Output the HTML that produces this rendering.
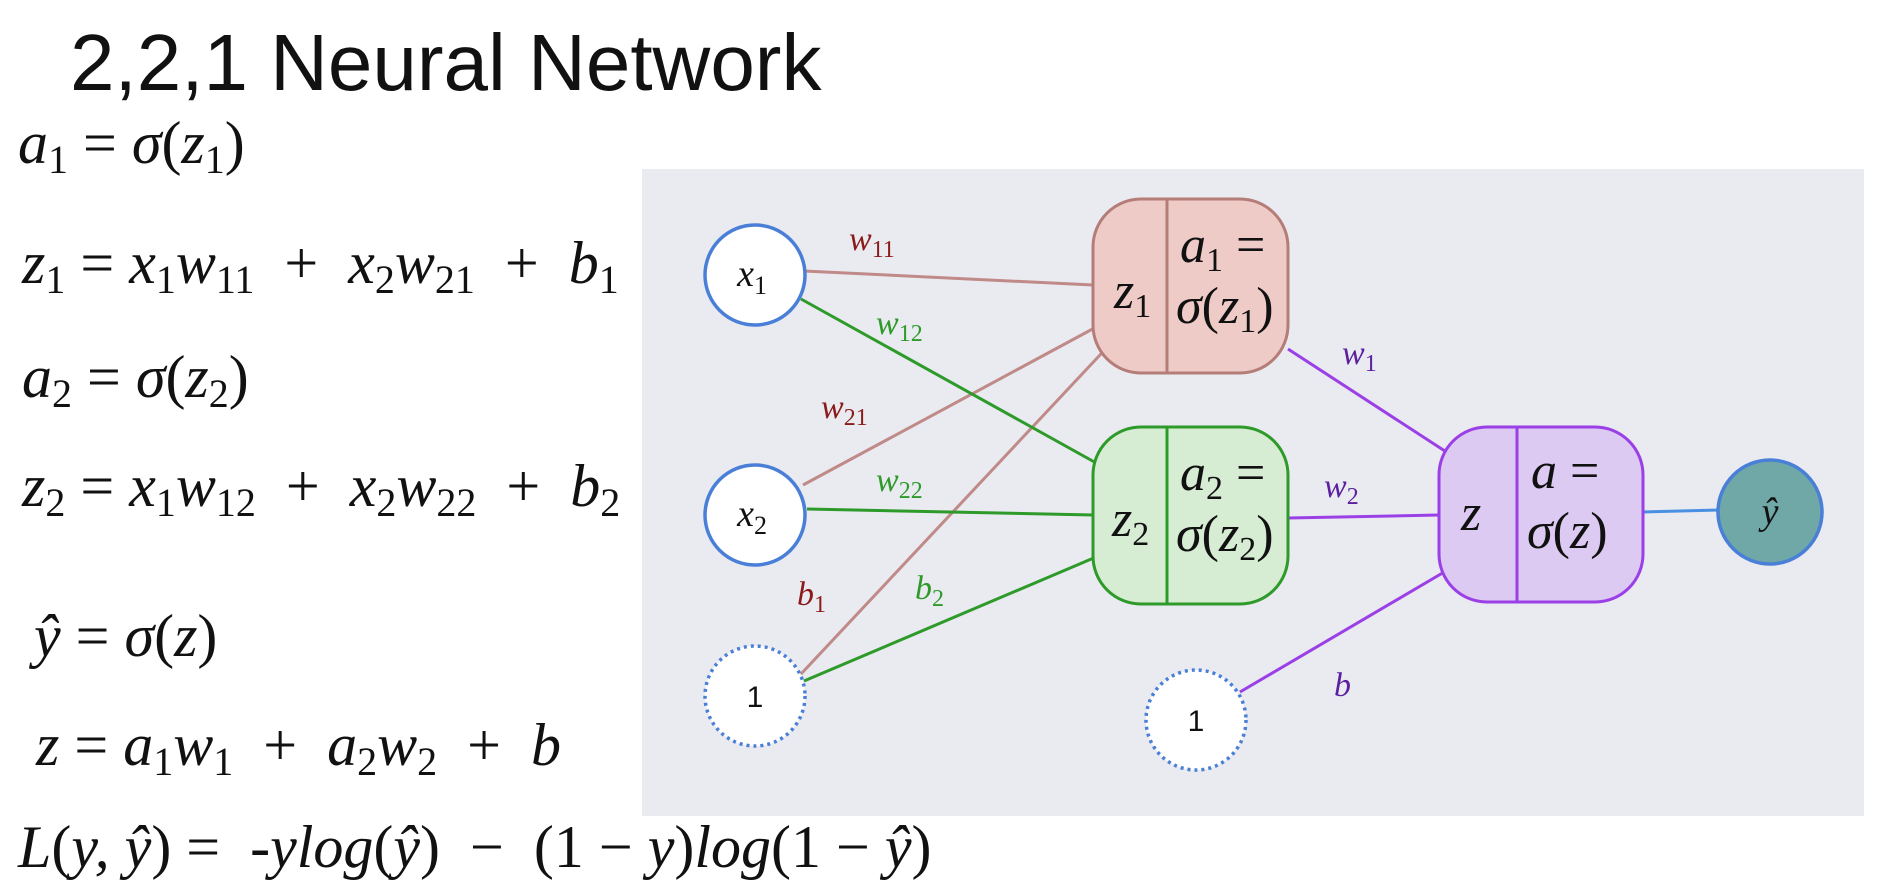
<!DOCTYPE html>
<html><head><meta charset="utf-8"><style>
html,body{margin:0;padding:0;background:#fff;}
svg{display:block}
.eq{font-family:"Liberation Serif",serif;font-style:italic;font-size:60px;fill:#111}
.up{font-style:normal}
.s{font-style:normal}
.lbl{font-family:"Liberation Serif",serif;font-style:italic;font-size:34px}
.nd{font-family:"Liberation Serif",serif;font-style:italic;font-size:52px;fill:#111}
</style></head><body>
<svg width="1888" height="887" viewBox="0 0 1888 887" xmlns="http://www.w3.org/2000/svg">
<rect width="1888" height="887" fill="#fff"/>
<text x="70" y="90" font-family="Liberation Sans, sans-serif" font-size="80" fill="#111">2,2,1 Neural Network</text>

<g class="eq">
<text x="18" y="163">a<tspan class="s" font-size="40" dy="10">1</tspan><tspan dy="-10" class="up"> = </tspan>σ<tspan class="up">(</tspan>z<tspan class="s" font-size="40" dy="10">1</tspan><tspan dy="-10" class="up">)</tspan></text>
<text x="22" y="283">z<tspan class="s" font-size="40" dy="10">1</tspan><tspan dy="-10" class="up"> = </tspan>x<tspan class="s" font-size="40" dy="10">1</tspan><tspan dy="-10">w</tspan><tspan class="s" font-size="40" dy="10">11</tspan><tspan dy="-10" class="up">&#160; + &#160;</tspan>x<tspan class="s" font-size="40" dy="10">2</tspan><tspan dy="-10">w</tspan><tspan class="s" font-size="40" dy="10">21</tspan><tspan dy="-10" class="up">&#160; + &#160;</tspan>b<tspan class="s" font-size="40" dy="10">1</tspan></text>
<text x="22" y="397">a<tspan class="s" font-size="40" dy="10">2</tspan><tspan dy="-10" class="up"> = </tspan>σ<tspan class="up">(</tspan>z<tspan class="s" font-size="40" dy="10">2</tspan><tspan dy="-10" class="up">)</tspan></text>
<text x="22" y="506">z<tspan class="s" font-size="40" dy="10">2</tspan><tspan dy="-10" class="up"> = </tspan>x<tspan class="s" font-size="40" dy="10">1</tspan><tspan dy="-10">w</tspan><tspan class="s" font-size="40" dy="10">12</tspan><tspan dy="-10" class="up">&#160; + &#160;</tspan>x<tspan class="s" font-size="40" dy="10">2</tspan><tspan dy="-10">w</tspan><tspan class="s" font-size="40" dy="10">22</tspan><tspan dy="-10" class="up">&#160; + &#160;</tspan>b<tspan class="s" font-size="40" dy="10">2</tspan></text>
<text x="34" y="656">ŷ<tspan class="up"> = </tspan>σ<tspan class="up">(</tspan>z<tspan class="up">)</tspan></text>
<text x="36" y="765">z<tspan class="up"> = </tspan>a<tspan class="s" font-size="40" dy="10">1</tspan><tspan dy="-10">w</tspan><tspan class="s" font-size="40" dy="10">1</tspan><tspan dy="-10" class="up">&#160; + &#160;</tspan>a<tspan class="s" font-size="40" dy="10">2</tspan><tspan dy="-10">w</tspan><tspan class="s" font-size="40" dy="10">2</tspan><tspan dy="-10" class="up">&#160; + &#160;</tspan>b</text>
<text x="18" y="867">L<tspan class="up">(</tspan>y, ŷ<tspan class="up">) = &#160;</tspan>-ylog<tspan class="up">(</tspan>ŷ<tspan class="up">) &#160;− &#160;(1 − </tspan>y<tspan class="up">)</tspan>log<tspan class="up">(1 − </tspan>ŷ<tspan class="up">)</tspan></text>
</g>

<rect x="642" y="169" width="1222" height="647" fill="#e9ebf1"/>

<g stroke-width="3" fill="none">
<line x1="804" y1="271" x2="1093" y2="285" stroke="#c08a88"/>
<line x1="803" y1="485" x2="1100" y2="325" stroke="#c08a88"/>
<line x1="801" y1="674" x2="1114" y2="340" stroke="#c08a88"/>
<line x1="801" y1="299" x2="1098" y2="464" stroke="#2e9a2a"/>
<line x1="807" y1="509" x2="1093" y2="515" stroke="#2e9a2a"/>
<line x1="804" y1="681" x2="1096" y2="557" stroke="#2e9a2a"/>
<line x1="1288" y1="349" x2="1451" y2="455" stroke="#9b3fe6"/>
<line x1="1288" y1="518" x2="1439" y2="515" stroke="#9b3fe6"/>
<line x1="1240" y1="692" x2="1451" y2="568" stroke="#9b3fe6"/>
<line x1="1643" y1="512" x2="1719" y2="510" stroke="#4a90e2"/>
</g>

<g stroke="#4a7fd8" stroke-width="3.5" fill="#fff">
<circle cx="755" cy="275" r="50"/>
<circle cx="755" cy="515" r="50"/>
<circle cx="755" cy="696" r="50" stroke-dasharray="3 4"/>
<circle cx="1196" cy="720" r="50" stroke-dasharray="3 4"/>
<circle cx="1770" cy="512" r="52" fill="#6fa8a7"/>
</g>
<g font-family="Liberation Serif,serif" font-style="italic" font-size="38" fill="#111" text-anchor="middle">
<text x="752" y="286">x<tspan font-style="normal" font-size="26" dy="8">1</tspan></text>
<text x="752" y="526">x<tspan font-style="normal" font-size="26" dy="8">2</tspan></text>
<text x="1770" y="524">ŷ</text>
</g>
<g font-family="Liberation Sans,sans-serif" font-size="30" fill="#111" text-anchor="middle">
<text x="755" y="707">1</text>
<text x="1196" y="731">1</text>
</g>

<rect x="1093" y="199" width="195" height="174" rx="48" fill="#efcbc8" stroke="#b57d78" stroke-width="3"/>
<line x1="1167" y1="199" x2="1167" y2="373" stroke="#b57d78" stroke-width="3"/>
<rect x="1093" y="427" width="195" height="177" rx="48" fill="#d6ecd3" stroke="#2e9a2a" stroke-width="3"/>
<line x1="1167" y1="427" x2="1167" y2="604" stroke="#2e9a2a" stroke-width="3"/>
<rect x="1439" y="427" width="204" height="175" rx="48" fill="#dccaf3" stroke="#9b3fe6" stroke-width="3"/>
<line x1="1517" y1="427" x2="1517" y2="602" stroke="#9b3fe6" stroke-width="3"/>

<g class="nd">
<text x="1114" y="308">z<tspan font-style="normal" font-size="34" dy="9">1</tspan></text>
<text x="1180" y="262">a<tspan font-style="normal" font-size="34" dy="9">1</tspan><tspan dy="-9" font-style="normal"> =</tspan></text>
<text x="1176" y="323">σ<tspan font-style="normal">(</tspan>z<tspan font-style="normal" font-size="34" dy="9">1</tspan><tspan dy="-9" font-style="normal">)</tspan></text>
<text x="1112" y="536">z<tspan font-style="normal" font-size="34" dy="9">2</tspan></text>
<text x="1180" y="490">a<tspan font-style="normal" font-size="34" dy="9">2</tspan><tspan dy="-9" font-style="normal"> =</tspan></text>
<text x="1176" y="551">σ<tspan font-style="normal">(</tspan>z<tspan font-style="normal" font-size="34" dy="9">2</tspan><tspan dy="-9" font-style="normal">)</tspan></text>
<text x="1461" y="530">z</text>
<text x="1531" y="488">a<tspan font-style="normal"> =</tspan></text>
<text x="1527" y="548">σ<tspan font-style="normal">(</tspan>z<tspan font-style="normal">)</tspan></text>
</g>

<g class="lbl">
<text x="849" y="250" fill="#8b1a1a">w<tspan font-style="normal" font-size="24" dy="7">11</tspan></text>
<text x="876" y="334" fill="#2e9a2a">w<tspan font-style="normal" font-size="24" dy="7">12</tspan></text>
<text x="821" y="418" fill="#8b1a1a">w<tspan font-style="normal" font-size="24" dy="7">21</tspan></text>
<text x="876" y="491" fill="#2e9a2a">w<tspan font-style="normal" font-size="24" dy="7">22</tspan></text>
<text x="797" y="605" fill="#8b1a1a">b<tspan font-style="normal" font-size="24" dy="7">1</tspan></text>
<text x="915" y="599" fill="#2e9a2a">b<tspan font-style="normal" font-size="24" dy="7">2</tspan></text>
<text x="1342" y="364" fill="#5b1fa0">w<tspan font-style="normal" font-size="24" dy="7">1</tspan></text>
<text x="1324" y="497" fill="#5b1fa0">w<tspan font-style="normal" font-size="24" dy="7">2</tspan></text>
<text x="1334" y="696" fill="#5b1fa0">b</text>
</g>
</svg>
</body></html>
